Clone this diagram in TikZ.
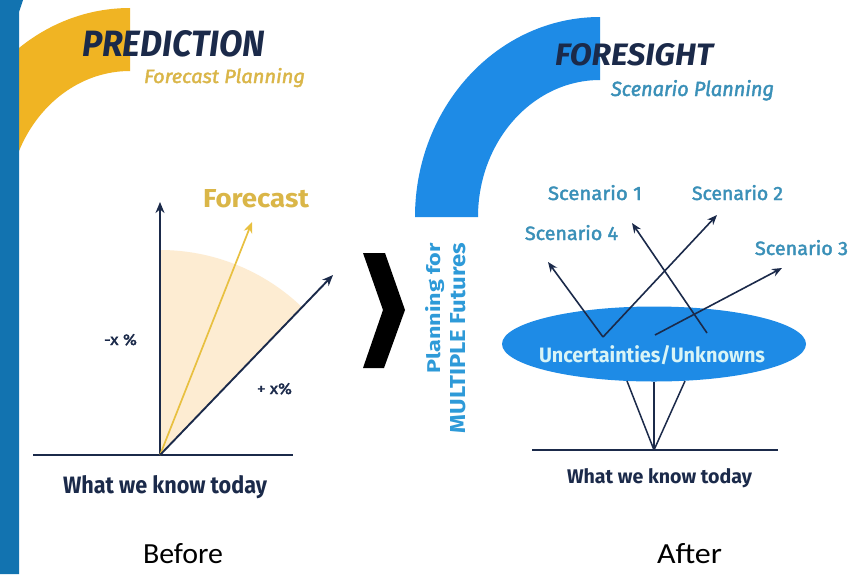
\documentclass[tikz,border=0pt]{standalone}
\usepackage{fontspec}
\setmainfont{Fira Sans}
\newfontfamily\firamed[FakeBold=2]{Fira Sans}
\newfontfamily\calibrifont{Carlito}
\usetikzlibrary{arrows.meta,shapes.geometric}
\definecolor{navy}{RGB}{27,42,74}
\definecolor{yelarc}{RGB}{240,180,35}
\definecolor{fctext}{RGB}{218,182,72}
\definecolor{peach}{RGB}{253,236,210}
\definecolor{yelarrow}{RGB}{232,192,64}
\definecolor{arcblue}{RGB}{30,139,230}
\definecolor{scentext}{RGB}{58,144,184}
\definecolor{plantext}{RGB}{46,154,216}
\definecolor{barblue}{RGB}{18,115,176}
\definecolor{unctext}{RGB}{216,244,246}
\newcommand{\fitxt}[3]{\resizebox{#1pt}{#2pt}{#3}}
\begin{document}
\begin{tikzpicture}[x=1pt,y=-1pt,
  txt/.style={inner sep=0pt, outer sep=0pt, anchor=base west},
  arrL/.style={draw=navy, line width=1.9pt, -{Stealth[length=11pt,width=9pt]}},
  arrR/.style={draw=navy, line width=1.6pt, -{Stealth[length=10pt,width=8pt]}},
  baseln/.style={draw=navy, line width=2.2pt},
  thinln/.style={draw=navy, line width=1.5pt}]
\useasboundingbox (0,0) rectangle (865,574);
\fill[white] (0,0) rectangle (865,574);

% ---------- left panel ----------
\fill[yelarc] (-55,208) arc[start angle=180,end angle=270,x radius=185,y radius=200]
  -- (130,71) arc[start angle=270,end angle=180,x radius=122,y radius=137] -- cycle;
\fill[barblue] (0,0) -- (23,0) -- (19,12) -- (19,574) -- (0,574) -- cycle;

\node[txt,text=navy] (pred) at (82,56) {\fitxt{183}{26}{\bfseries\itshape PREDICTION}};
\node[txt,text=fctext] (fcp) at (144,83) {\fitxt{161}{15}{\firamed\itshape Forecast Planning}};

\coordinate (o1) at (160,455);
\coordinate (vtip) at (160,202);
\coordinate (ytip) at (252,222);
\coordinate (rtip) at (333,275);
\coordinate (bl1) at (33,455);
\coordinate (br1) at (293,455);
\fill[peach] (o1) -- (160,250) arc[start angle=270,end angle=314,radius=205] -- cycle;
\draw[baseln] (bl1) -- (br1);
\draw[arrL] (o1) -- (vtip);
\draw[draw=yelarrow, line width=1.7pt, -{Stealth[length=11pt,width=9pt]}] (o1) -- (ytip);
\draw[arrL] (o1) -- (rtip);

\node[txt,text=fctext] (fc) at (203,207) {\fitxt{106}{18}{\bfseries Forecast}};
\node[txt,text=navy] (mx) at (104,345) {\fitxt{33}{11}{\firamed -x \%}};
\node[txt,text=navy] (px) at (257,394) {\fitxt{35}{11}{\firamed + x\%}};
\node[txt,text=navy] (wk1) at (63,493) {\fitxt{204}{18}{\bfseries What we know today}};

% ---------- chevron ----------
\fill[black] (363,253) -- (385,253) -- (405,310) -- (384,368) -- (363,368) -- (383,310) -- cycle;

% ---------- right panel ----------
\fill[arcblue] (415,217) arc[start angle=180,end angle=270,x radius=185,y radius=200]
  -- (600,80) arc[start angle=270,end angle=180,x radius=122,y radius=137] -- cycle;
\node[txt,text=navy] (fore) at (555,65) {\fitxt{158}{22}{\bfseries\itshape FORESIGHT}};
\node[txt,text=scentext] (scp) at (611,96) {\fitxt{163}{16}{\firamed\itshape Scenario Planning}};

\node[rotate=90, anchor=base east, inner sep=0pt, text=plantext] (pl1) at (440,243)
  {\fitxt{130}{15}{\bfseries Planning for}};
\node[rotate=90, anchor=base east, inner sep=0pt, text=plantext] (pl2) at (465,243)
  {\fitxt{190}{15}{\bfseries MULTIPLE Futures}};

\coordinate (o2) at (654,450);
\coordinate (bl2) at (532,450);
\coordinate (br2) at (778,450);
\coordinate (e1) at (627,381);
\coordinate (e3) at (685,381);
\draw[baseln] (bl2) -- (br2);
\node[ellipse, fill=arcblue, minimum width=304pt, minimum height=75pt, inner sep=0pt] (unc) at (654,344) {};
\draw[thinln] (o2) -- (e1);
\draw[thinln] (o2) -- (unc.south);
\draw[thinln] (o2) -- (e3);

\coordinate (s4a) at (603,337);
\coordinate (s1a) at (707,333);
\coordinate (s3a) at (655,335);
\coordinate (t4) at (548,262);
\coordinate (t2) at (717,215);
\coordinate (t1) at (632,223);
\coordinate (t3) at (782,268);
\draw[arrR] (s4a) -- (t4);
\draw[arrR] (s4a) -- (t2);
\draw[arrR] (s1a) -- (t1);
\draw[arrR] (s3a) -- (t3);

\node[txt,text=unctext] (unct) at (539,362) {\fitxt{226}{17}{\bfseries Uncertainties/Unknowns}};
\node[txt,text=scentext] (sc1) at (548,200) {\fitxt{94}{15}{\firamed Scenario 1}};
\node[txt,text=scentext] (sc2) at (692,200) {\fitxt{91}{15}{\firamed Scenario 2}};
\node[txt,text=scentext] (sc4) at (525,240) {\fitxt{93}{15}{\firamed Scenario 4}};
\node[txt,text=scentext] (sc3) at (755,255) {\fitxt{93}{15}{\firamed Scenario 3}};
\node[txt,text=navy] (wk2) at (567,483) {\fitxt{185}{15}{\bfseries What we know today}};

% ---------- captions ----------
\node[txt,text=black] (bef) at (143,563) {\fitxt{80}{20}{\calibrifont Before}};
\node[txt,text=black] (aft) at (657,563) {\fitxt{65}{20}{\calibrifont After}};
\end{tikzpicture}
\end{document}
